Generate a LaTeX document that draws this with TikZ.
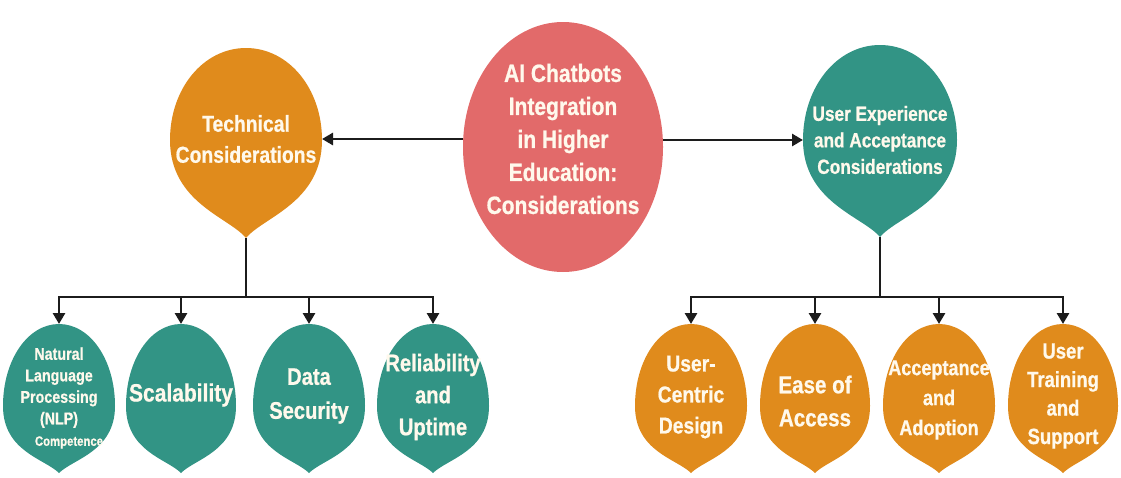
\documentclass[tikz,border=0pt]{standalone}
\usepackage{fontspec}
\setmainfont{Liberation Sans}[FakeStretch=0.84, BoldFeatures={FakeBold=0.7}]
\usetikzlibrary{shapes.geometric,arrows.meta}
\definecolor{orng}{RGB}{224,139,28}
\definecolor{tealc}{RGB}{50,148,133}
\definecolor{coral}{RGB}{226,106,106}
\definecolor{txtc}{RGB}{255,249,236}
\definecolor{linec}{RGB}{28,28,28}
\newcommand\fsz[2]{\bfseries\fontsize{#1}{#2}\selectfont}
% #1 name, #2 cx, #3 y of widest point, #4 half width, #5 top distance, #6 tip distance, #7 fill,
% #8 depth factor of first lower control, #9 width factor of second lower control
\newcommand\mydrop[9]{%
  \fill[#7] (#2+#4,#3) .. controls (#2+#4,#3-0.56*#5) and (#2+0.56*#4,#3-#5) .. (#2,#3-#5)
     .. controls (#2-0.56*#4,#3-#5) and (#2-#4,#3-0.56*#5) .. (#2-#4,#3)
     .. controls (#2-#4,#3+#8*#6) and (#2-#9*#4,#3+0.79*#6) .. (#2,#3+#6)
     .. controls (#2+#9*#4,#3+0.79*#6) and (#2+#4,#3+#8*#6) .. (#2+#4,#3) -- cycle;
  \coordinate (#1-top) at (#2,#3-#5);
  \coordinate (#1-tip) at (#2,#3+#6);
  \coordinate (#1-east) at (#2+#4,#3);
  \coordinate (#1-west) at (#2-#4,#3);
}
\begin{document}
\begin{tikzpicture}[x=1pt,y=-1pt,
  txt/.style={text=txtc, align=center, inner sep=0pt},
  conn/.style={draw=linec, line width=2.8pt},
  tipped/.style={conn, -{Triangle[length=11pt,width=12pt]}},
  dtipped/.style={conn, {Triangle[length=11pt,width=12pt]}-{Triangle[length=11pt,width=12pt]}}]
\useasboundingbox (0,0) rectangle (1121,477);

% central node
\node[ellipse, fill=coral, minimum width=200pt, minimum height=250pt, inner sep=0pt] (center) at (563,147) {};
\node[txt, font=\fsz{25}{33}] (center-label) at (563,139)
  {AI Chatbots\\Integration\\in Higher\\Education:\\Considerations};

% second level
\mydrop{tech}{246}{140}{76}{92}{98}{orng}{0.64}{0.22}
\node[txt, font=\fsz{23}{31}] (tech-label) at (246,139) {Technical\\Considerations};
\mydrop{ux}{880}{140}{77}{95}{97}{tealc}{0.64}{0.22}
\node[txt, font=\fsz{20.5}{26.5}] (ux-label) at (880,140) {User Experience\\and Acceptance\\Considerations};

% third level, left
\mydrop{nlp}{59}{406}{56}{82}{67}{tealc}{0.68}{0.25}
\node[txt, font=\fsz{17}{21.5}] (nlp-label) at (59,398)
  {Natural\\Language\\Processing\\(NLP)\\\hspace*{20pt}{\fontsize{13.5}{21.5}\selectfont Competence}};
\mydrop{scal}{181}{406}{55}{82}{67}{tealc}{0.68}{0.25}
\node[txt, font=\fsz{25}{33}] (scal-label) at (181,395) {Scalability};
\mydrop{data}{309}{406}{56}{82}{67}{tealc}{0.68}{0.25}
\node[txt, font=\fsz{24}{34}] (data-label) at (309,396) {Data\\Security};
\mydrop{rel}{433}{406}{56}{82}{67}{tealc}{0.68}{0.25}
\node[txt, font=\fsz{24}{32}] (rel-label) at (433,397) {Reliability\\and\\Uptime};

% third level, right
\mydrop{ucd}{691}{406}{56}{82}{67}{orng}{0.68}{0.25}
\node[txt, font=\fsz{23}{31}] (ucd-label) at (691,397) {User-\\Centric\\Design};
\mydrop{ease}{815}{406}{55}{82}{67}{orng}{0.68}{0.25}
\node[txt, font=\fsz{24.5}{33}] (ease-label) at (815,401) {Ease of\\Access};
\mydrop{acc}{939}{406}{56}{82}{67}{orng}{0.68}{0.25}
\node[txt, font=\fsz{21.5}{30}] (acc-label) at (939,400) {Acceptance\\and\\Adoption};
\mydrop{ut}{1063}{406}{55}{82}{67}{orng}{0.68}{0.25}
\node[txt, font=\fsz{22}{28.5}] (ut-label) at (1063,396) {User\\Training\\and\\Support};

% connectors top
\draw[tipped] (center.west |- tech-label) -- (tech-east |- tech-label);
\draw[tipped] (center.east |- ux-label) -- (ux-west |- ux-label);

% left tree
\coordinate (busL) at (246,297);
\draw[conn] (tech-tip) -- (busL);
\draw[dtipped] (nlp-top) -- (nlp-top |- busL) -- (rel-top |- busL) -- (rel-top);
\draw[tipped] (scal-top |- busL) -- (scal-top);
\draw[tipped] (data-top |- busL) -- (data-top);

% right tree
\coordinate (busR) at (880,297);
\draw[conn] (ux-tip) -- (busR);
\draw[dtipped] (ucd-top) -- (ucd-top |- busR) -- (ut-top |- busR) -- (ut-top);
\draw[tipped] (ease-top |- busR) -- (ease-top);
\draw[tipped] (acc-top |- busR) -- (acc-top);
\end{tikzpicture}
\end{document}
